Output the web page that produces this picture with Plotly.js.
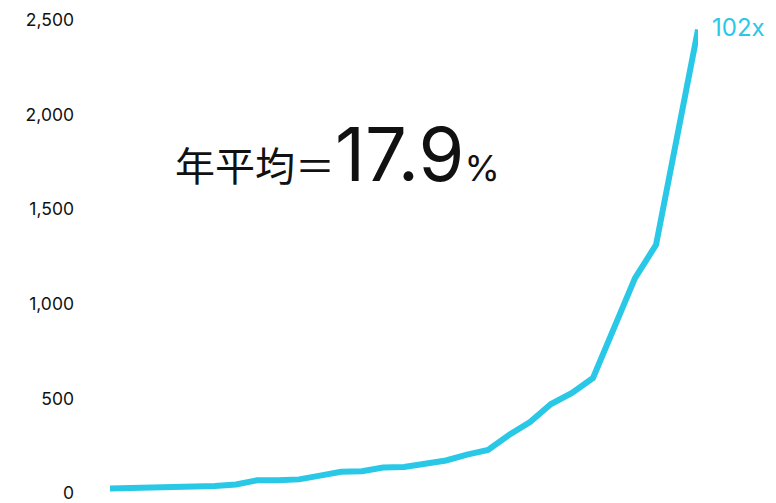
<!DOCTYPE html>
<html>
<head>
<meta charset="utf-8">
<script src="https://cdn.plot.ly/plotly-3.0.1.min.js"></script>
<style>html,body{margin:0;padding:0;background:#fff;}#chart{width:776px;height:503px;}</style>
</head>
<body>
<div id="chart"></div>
<script>
const years = [0,1,2,3,4,5,6,7,8,9,10,11,12,13,14,15,16,17,18,19,20,21,22,23,24,25,26,27,28];
const values = [24,26,26,27,32,37,45,67,68,72,92,112,115,135,138,152,172,203,227,307,375,470,529,608,872,1136,1311,1887,2450];
const yTicks = [0,500,1000,1500,2000,2500];
const yTickLabels = ['0','500','1,000','1,500','2,000','2,500'];
const endLabel = '102x';
const cagrLabel = '年平均＝';
const cagrValue = '17.9';
const lineColor = '#29c8e6';

const trace = {
  x: years, y: values, type: 'scatter', mode: 'lines',
  line: {color: lineColor, width: 6, shape: 'linear'},
  cliponaxis: false, hoverinfo: 'skip'
};
const n = years.length - 1;
const layout = {
  width: 776, height: 503,
  margin: {l: 76, r: 78, t: 20, b: 10},
  paper_bgcolor: '#fff', plot_bgcolor: '#fff',
  showlegend: false,
  font: {family: 'Inter, "Noto Sans CJK JP", sans-serif', color: '#111'},
  xaxis: {range: [-34/21, years[n]], showgrid: false, zeroline: false, showline: false, showticklabels: false, ticks: ''},
  yaxis: {range: [0, 2500], tickvals: yTicks, ticktext: yTickLabels, showgrid: false, zeroline: false, showline: false,
          ticks: '', ticklabeloverflow: 'allow',
          tickfont: {size: 17.5, color: '#111', family: 'Inter, sans-serif'}, ticklabelstandoff: 1},
  annotations: [
    {x: years[n], y: values[n], xref: 'x', yref: 'y', text: endLabel, showarrow: false,
     xanchor: 'left', yanchor: 'middle', xshift: 12, yshift: 2,
     font: {size: 24, color: lineColor, family: 'Inter, sans-serif'}},
    {x: 10.85, y: 1790, xref: 'x', yref: 'y', showarrow: false, xanchor: 'center', yanchor: 'middle',
     text: '<span style="font-size:40px">' + cagrLabel + '</span><span style="font-size:74px">' + cagrValue + '</span><span style="font-size:36px">%</span>',
     font: {size: 40, color: '#111', family: 'Inter, "Noto Sans CJK JP", sans-serif'}}
  ]
};
Plotly.newPlot('chart', [trace], layout, {displayModeBar: false, staticPlot: true});
</script>
</body>
</html>
